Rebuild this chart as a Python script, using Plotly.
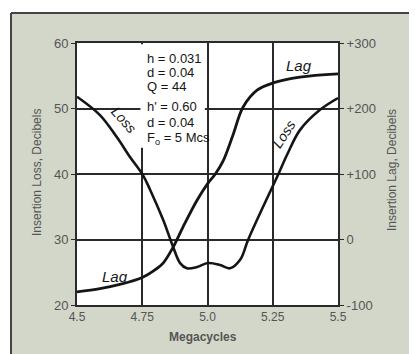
import plotly.graph_objects as go

# ---- data ----
loss_freq = [4.500, 4.588, 4.653, 4.703, 4.753, 4.780, 4.830, 4.868, 4.895, 4.921,
             4.960, 5.002, 5.048, 5.086, 5.125, 5.155, 5.213, 5.266, 5.308, 5.354,
             5.431, 5.500]
loss_db = [51.8, 49.0, 45.6, 42.6, 39.8, 37.6, 33.0, 28.9, 26.4, 25.6,
           25.8, 26.4, 26.1, 25.6, 26.9, 29.9, 35.0, 39.5, 43.2, 46.7,
           49.8, 51.6]

lag_freq = [4.500, 4.588, 4.660, 4.750, 4.800, 4.830, 4.868, 4.906, 4.960, 5.002,
            5.030, 5.060, 5.098, 5.136, 5.190, 5.251, 5.354, 5.500]
lag_deg = [-80, -75, -69, -58, -46, -36, -12, 19, 60, 86,
           100, 120, 160, 202, 228, 239, 248, 253]

x_ticks = [4.5, 4.75, 5.0, 5.25, 5.5]
x_tick_text = ["4.5", "4.75", "5.0", "5.25", "5.5"]
left_ticks = [20, 30, 40, 50, 60]
right_ticks = [-100, 0, 100, 200, 300]
right_tick_text = ["-100", "0", "+100", "+200", "+300"]

param_lines = ["h = 0.031", "d = 0.04", "Q = 44",
               "h' = 0.60", "d = 0.04", "F<sub>o</sub> = 5 Mcs"]
param_rows_px = [58, 72, 86, 106, 122, 138]   # screen y of each line centre

BG = "#d2d7c9"
INK = "#151515"
GRID = "#2a2a2a"
LABEL = "#555555"
FONT = "Liberation Sans"

# the page body adds an 8px margin; the figure is sized to fit the window
W, H = 409, 346

fig = go.Figure()
fig.add_trace(go.Scatter(x=loss_freq, y=loss_db, mode="lines", line_shape="spline",
                         line=dict(color=INK, width=2.6), yaxis="y", showlegend=False))
fig.add_trace(go.Scatter(x=lag_freq, y=lag_deg, mode="lines", line_shape="spline",
                         line=dict(color=INK, width=2.8), yaxis="y2", showlegend=False))

# screen px -> paper coordinates (plot area spans screen x 77..338, y 43..305)
def px_x(px):
    return (px - 77) / 261.0

def px_y(py):
    return (305 - py) / 262.0

shapes = [
    dict(type="rect", xref="paper", yref="paper", x0=px_x(-5), x1=px_x(425),
         y0=px_y(13), y1=px_y(-5), fillcolor="white", line_width=0, layer="below"),
    dict(type="rect", xref="paper", yref="paper", x0=px_x(-5), x1=px_x(11),
         y0=px_y(360), y1=px_y(-5), fillcolor="white", line_width=0, layer="below"),
    dict(type="line", xref="paper", yref="paper", x0=px_x(11), x1=px_x(420),
         y0=px_y(13), y1=px_y(13), line=dict(color="#444", width=2)),
    dict(type="line", xref="paper", yref="paper", x0=px_x(11), x1=px_x(11),
         y0=px_y(13), y1=px_y(360), line=dict(color="#444", width=2)),
    dict(type="rect", xref="x", yref="y", x0=4.743, x1=4.99, y0=44.0, y1=59.8,
         fillcolor="white", line_width=0, layer="between"),
]

def note(text, px, py, size=13, color=INK, angle=0, xanchor="center"):
    return dict(text=text, xref="paper", yref="paper", x=px_x(px), y=px_y(py),
                xanchor=xanchor, yanchor="middle", textangle=angle, showarrow=False,
                font=dict(family=FONT, size=size, color=color))

annotations = [note(t, 145, py, size=13, xanchor="left")
               for t, py in zip(param_lines, param_rows_px)]

annotations += [
    note("<i>Loss</i>", 124, 120, size=14, angle=48),
    note("<i>Loss</i>", 284, 134, size=14, angle=-57),
    note("<i>Lag</i>", 299, 66, size=15),
    note("<i>Lag</i>", 115, 276, size=15),
    note("Insertion Loss, Decibels", 37, 173, size=12, color=LABEL, angle=-90),
    note("Insertion Lag, Decibels", 392, 170, size=12, color=LABEL, angle=-90),
    note("<b>Megacycles</b>", 203, 337, size=12, color=LABEL),
]

fig.update_layout(
    width=W, height=H,
    margin=dict(l=69, r=79, t=35, b=49, autoexpand=False),
    paper_bgcolor=BG, plot_bgcolor="white",
    font=dict(family=FONT, size=12, color=LABEL),
    shapes=shapes, annotations=annotations,
    xaxis=dict(range=[4.5, 5.5], tickvals=x_ticks, ticktext=x_tick_text,
               showgrid=True, gridcolor=GRID, gridwidth=1.5,
               showline=True, linecolor=GRID, linewidth=2, mirror=True,
               ticks="", ticklabelstandoff=0, zeroline=False,
               tickfont=dict(size=12, color=LABEL)),
    yaxis=dict(range=[20, 60], tickvals=left_ticks,
               showgrid=True, gridcolor=GRID, gridwidth=1.5,
               showline=True, linecolor=GRID, linewidth=2,
               ticks="outside", ticklen=4, tickcolor=GRID, zeroline=False,
               tickfont=dict(size=13, color=LABEL)),
    yaxis2=dict(range=[-100, 300], tickvals=right_ticks, ticktext=right_tick_text,
                overlaying="y", side="right", showgrid=False, zeroline=False,
                showline=True, linecolor=GRID, linewidth=2,
                ticks="outside", ticklen=4, tickcolor=GRID,
                tickfont=dict(size=13, color=LABEL)),
)

fig.write_html("out.html")
